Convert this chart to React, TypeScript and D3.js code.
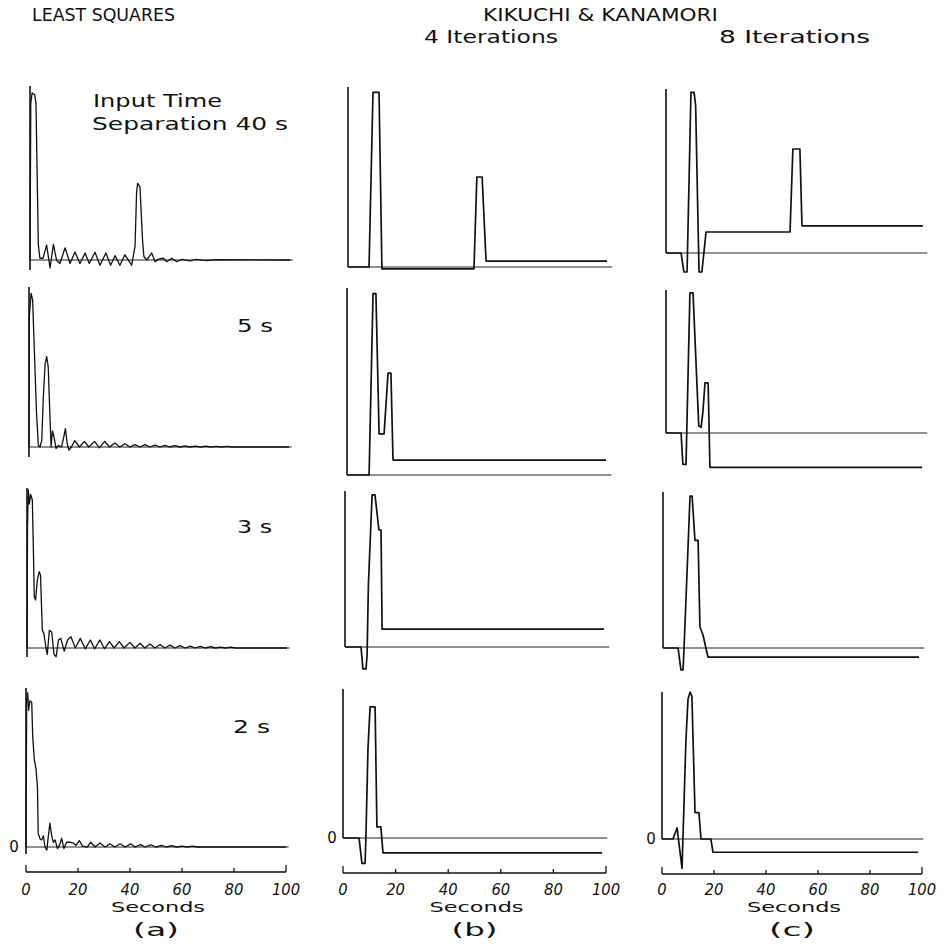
import React from 'react';
import * as d3 from 'd3';

type Pt = [number, number];

// ---------- data (time in s, amplitude relative to panel full scale) ----------
const xTicks = [0, 20, 40, 60, 80, 100];
const headerLeft = 'LEAST SQUARES';
const headerRight = 'KIKUCHI & KANAMORI';
const iterLabels = ['4 Iterations', '8 Iterations'];
const sepLabels = ['5 s', '3 s', '2 s'];
const sepTitle = ['Input Time', 'Separation 40 s'];
const colLetters = ['(a)', '(b)', '(c)'];

const lsq40: Pt[] = [[0,0],[0.3,0.9],[0.8,0.96],[1.8,0.95],[2.3,0.9],[2.8,0.45],[3.2,0.09],[3.8,0.01],[5,0.01],[6.4,0.086],[7.7,-0.046],[9,0.09],[10.2,0],[11.5,-0.02],[13.5,0.07],[15.4,-0.02],[17.3,0.046],[19.2,-0.02],[21.2,0.04],[22.8,-0.02],[25,0.045],[26.9,-0.03],[29.2,0.04],[31,-0.03],[32.7,0.025],[34.6,-0.03],[36.5,0.03],[39.1,-0.03],[40.4,0.08],[41,0.39],[41.4,0.44],[42.3,0.42],[43.3,0.11],[43.8,0.02],[44.9,0],[46.8,0.04],[48.1,-0.01],[49.4,0.005],[51.3,0.01],[52.6,-0.01],[54.5,0.01],[56.4,-0.01],[58.3,0.003],[61.5,-0.005],[64,0.003],[68,-0.003],[72,0.002],[100,0]];
const lsq5: Pt[] = [[0,0],[0.1,0.81],[0.8,0.96],[1.4,0.92],[2,0.63],[2.9,0.21],[3.6,0.01],[4.2,0],[4.9,0.04],[5.5,0.31],[6.2,0.52],[6.8,0.565],[7.4,0.5],[8.1,0.17],[8.5,0],[9,0.1],[9.6,0.065],[10.4,-0.01],[11.3,0.01],[12.5,0],[13.4,0.065],[14,0.115],[14.7,0.02],[15.4,-0.02],[16.3,0],[17.6,0.04],[19.4,0],[21.3,0.035],[23,0],[25.2,0.035],[27.1,-0.005],[29.1,0.035],[31,0],[33,0.025],[34.9,0],[36.9,0.02],[38.8,0],[40.7,0.015],[42.7,0],[44.6,0.015],[46.5,0],[48.5,0.012],[50.4,0],[52.3,0.01],[54.2,0],[56.2,0.008],[58.1,0],[60,0.007],[62,0],[64,0.006],[66,0],[68,0.005],[70,0],[72,0.004],[74,0],[76,0.004],[78,0],[100,0]];
const lsq3: Pt[] = [[0,0],[0.2,0.76],[0.5,0.99],[0.9,0.9],[1.4,0.96],[2.05,0.925],[2.4,0.66],[2.8,0.32],[3.3,0.3],[3.97,0.425],[4.7,0.477],[5.2,0.455],[5.9,0.11],[6.5,0.09],[7.3,0],[7.8,-0.04],[8.6,0.11],[9.5,0.1],[10.4,-0.04],[11.2,-0.055],[12.1,0.05],[13,0.06],[14.3,-0.02],[15.6,0.05],[16.9,0.07],[18.6,0],[20.5,0.06],[22.4,-0.005],[24.4,0.05],[26,-0.005],[28,0.05],[29.8,-0.005],[31.7,0.04],[33.5,0],[35.5,0.04],[37.3,0],[39.6,0.035],[41.5,0],[43.5,0.03],[45.3,0],[47.3,0.025],[49.2,0],[51.2,0.022],[53,0],[55,0.018],[56.9,0],[58.9,0.015],[60.8,0],[62.8,0.012],[64.7,0],[66.7,0.01],[68.6,0],[70.6,0.008],[72.5,0],[74.5,0.006],[76.4,0],[78.4,0.005],[80.3,0],[100,0]];
const lsq2: Pt[] = [[0,0],[0.26,0.92],[0.64,0.97],[1,0.86],[1.5,0.92],[2.2,0.91],[2.6,0.69],[3.2,0.55],[3.85,0.49],[4.4,0.38],[4.7,0.086],[5.4,0.05],[6,0.044],[6.7,0.07],[7.3,0],[8,-0.02],[8.6,0.07],[9.2,0.15],[9.9,0.07],[10.5,0.03],[11.2,0.044],[12.1,-0.01],[13.1,0.02],[13.7,0.055],[14.6,-0.01],[15.6,0.03],[16.9,0.03],[18.2,0.025],[19.2,0.01],[20.5,0.04],[21.8,0.005],[23.6,0],[24.9,0.03],[26.5,0],[28.5,0.025],[30.4,0],[32.3,0.02],[34.2,0],[36.2,0.02],[38.1,0],[40.3,0.02],[41.9,0],[44.1,0.015],[45.8,0],[48,0.014],[50,0],[52.2,0.01],[54,0],[56,0.008],[58,0],[60,0.006],[62,0],[64,0.005],[66,0],[100,0]];

const kk4_40: Pt[] = [[0,0],[8,0],[9.5,0.97],[11.8,0.97],[12.9,-0.01],[47.9,-0.01],[49,0.5],[51,0.5],[52.5,0.033],[98.5,0.033]];
const kk4_5: Pt[] = [[0,0],[8.4,0],[9.9,0.97],[11,0.97],[12.2,0.22],[14.1,0.22],[15.6,0.545],[16.7,0.545],[17.5,0.08],[98.5,0.08]];
const kk4_3: Pt[] = [[0,0],[6.1,0],[6.8,-0.14],[8,-0.14],[8.4,-0.05],[8.9,0.4],[10.3,0.975],[11.4,0.975],[12.9,0.75],[13.7,0.75],[14.1,0.115],[98.5,0.115]];
const kk4_2: Pt[] = [[0,0],[6.1,0],[7.2,-0.17],[8.4,-0.17],[8.7,0],[9.5,0.6],[10.3,0.88],[12.2,0.88],[12.9,0.074],[14.4,0.074],[15.2,-0.1],[98.5,-0.1]];

const kk8_40: Pt[] = [[0,0],[5.8,0],[6.9,-0.116],[8.1,-0.116],[9.6,0.98],[10.8,0.98],[11.4,0.9],[12.7,-0.116],[13.8,-0.116],[15.4,0.128],[47.7,0.128],[48.8,0.634],[51.5,0.634],[52.3,0.165],[98.8,0.165]];
const kk8_5: Pt[] = [[0,0],[5.8,0],[6.5,-0.22],[7.7,-0.22],[9.2,0.98],[10.4,0.98],[12,0.3],[12.6,0.05],[13.5,0.04],[14.2,0.15],[15,0.35],[16.2,0.35],[16.9,-0.24],[98.5,-0.24]];
const kk8_3: Pt[] = [[0,0],[5.8,0],[6.9,-0.14],[7.7,-0.14],[8.1,0],[10.4,0.974],[11.2,0.974],[12.3,0.69],[13.5,0.69],[14.2,0.135],[15.4,0.083],[16.5,0],[17.3,-0.058],[98.5,-0.058]];
const kk8_2: Pt[] = [[0,0],[4.2,0],[5.8,0.075],[7.7,-0.2],[9.2,0.67],[10,0.95],[10.8,1.0],[11.5,0.97],[12.7,0.18],[14.2,0.18],[15,0],[18.8,0],[19.6,-0.09],[98.5,-0.09]];

// ---------- layout ----------
interface Panel { top: number; zero: number; bottom: number; axisX: number; data: Pt[] }
interface Col { pxPerSec: number; zeroEnd: number; axisY: number; panels: Panel[]; thin: boolean }

const cols: Col[] = [
  { pxPerSec: 2.6, zeroEnd: 101, axisY: 872, thin: true, panels: [
    { top: 86, zero: 260, bottom: 270, axisX: 30, data: lsq40 },
    { top: 287, zero: 447, bottom: 457, axisX: 29, data: lsq5 },
    { top: 488, zero: 648, bottom: 657, axisX: 27, data: lsq3 },
    { top: 688, zero: 847, bottom: 854, axisX: 26, data: lsq2 },
  ] },
  { pxPerSec: 2.63, zeroEnd: 100.5, axisY: 873, thin: false, panels: [
    { top: 87, zero: 267, bottom: 267, axisX: 348, data: kk4_40 },
    { top: 288, zero: 475, bottom: 475, axisX: 347, data: kk4_5 },
    { top: 491, zero: 647, bottom: 647, axisX: 345, data: kk4_3 },
    { top: 689, zero: 838, bottom: 838, axisX: 343, data: kk4_2 },
  ] },
  { pxPerSec: 2.6, zeroEnd: 100.5, axisY: 874, thin: false, panels: [
    { top: 89, zero: 253, bottom: 253, axisX: 666, data: kk8_40 },
    { top: 290, zero: 433, bottom: 433, axisX: 666, data: kk8_5 },
    { top: 492, zero: 648, bottom: 648, axisX: 663, data: kk8_3 },
    { top: 692, zero: 839, bottom: 839, axisX: 662, data: kk8_2 },
  ] },
];

const FONT = '"DejaVu Sans", "Liberation Sans", sans-serif';
const INK = '#111';

function T(props: { x: number; y: number; len?: number; size?: number; anchor?: string; italic?: boolean; children: string }) {
  const { x, y, len, size = 17, anchor = 'start', italic = false, children } = props;
  return (
    <text x={x} y={y} fontFamily={FONT} fontSize={size} fill={INK} textAnchor={anchor}
      fontStyle={italic ? 'italic' : 'normal'}
      {...(len ? { textLength: len, lengthAdjust: 'spacingAndGlyphs' } : {})}>{children}</text>
  );
}

export default function App() {
  return (
    <svg width={943} height={944} style={{ position: 'absolute', left: 0, top: 0, background: '#fff' }}>
      <rect x={0} y={0} width={943} height={944} fill="#fff" />
      {/* headers */}
      <T x={32} y={21} len={143}>{headerLeft}</T>
      <T x={483} y={21} len={235}>{headerRight}</T>
      <T x={424} y={43} len={134}>{iterLabels[0]}</T>
      <T x={719} y={43} len={151}>{iterLabels[1]}</T>
      <T x={93} y={107} len={129}>{sepTitle[0]}</T>
      <T x={92} y={130} len={196}>{sepTitle[1]}</T>
      <T x={237} y={332} len={36}>{sepLabels[0]}</T>
      <T x={237} y={533} len={35}>{sepLabels[1]}</T>
      <T x={233} y={733} len={37}>{sepLabels[2]}</T>

      {cols.map((col, ci) => {
        const bottomPanel = col.panels[col.panels.length - 1];
        const xb = d3.scaleLinear().domain([0, 100]).range([bottomPanel.axisX, bottomPanel.axisX + 100 * col.pxPerSec]);
        const mid = (xb(0) + xb(100)) / 2;
        return (
          <g key={ci}>
            {col.panels.map((p, pi) => {
              const x = d3.scaleLinear().domain([0, 100]).range([p.axisX, p.axisX + 100 * col.pxPerSec]);
              const y = d3.scaleLinear().domain([0, 1]).range([p.zero, p.top]);
              const line = d3.line<Pt>().x(d => x(d[0])).y(d => y(d[1]));
              return (
                <g key={pi}>
                  <line x1={x(0)} x2={x(col.zeroEnd)} y1={y(0)} y2={y(0)} stroke="#222" strokeWidth={1} />
                  <line x1={x(0)} x2={x(0)} y1={p.top} y2={p.bottom} stroke={INK} strokeWidth={1.6} />
                  <path d={line(p.data) || ''} fill="none" stroke={INK} strokeWidth={col.thin ? 1.3 : 1.7} strokeLinejoin="round" />
                </g>
              );
            })}
            {/* zero label on bottom panel */}
            <T x={bottomPanel.axisX - (ci === 0 ? 12 : 11)} y={bottomPanel.zero + 5} size={15} anchor="middle">0</T>
            {/* x axis */}
            <line x1={xb(0)} x2={xb(100)} y1={col.axisY} y2={col.axisY} stroke={INK} strokeWidth={1.3} />
            {xTicks.map((t, ti) => {
              const end = ti === 0 || ti === xTicks.length - 1;
              return <line key={t} x1={xb(t)} x2={xb(t)} y1={col.axisY} y2={col.axisY - (end ? 7 : 4)} stroke={INK} strokeWidth={1.3} />;
            })}
            {xTicks.map(t => (
              <T key={'l' + t} x={xb(t)} y={895} size={16} anchor="middle" italic
                len={String(t).length * 9.4}>{String(t)}</T>
            ))}
            <T x={mid + 2} y={912} size={14} anchor="middle" len={94}>Seconds</T>
            <T x={mid} y={936} size={18} anchor="middle" len={46}>{colLetters[ci]}</T>
          </g>
        );
      })}
    </svg>
  );
}
